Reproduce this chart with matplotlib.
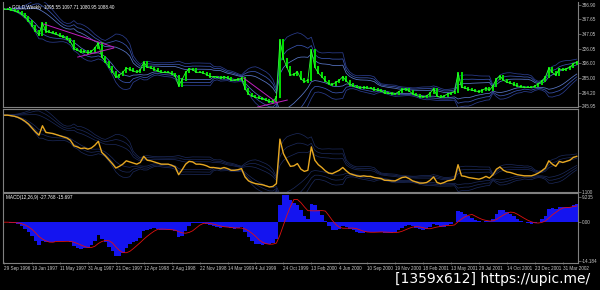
import matplotlib
matplotlib.use("Agg")
import numpy as np
import pandas as pd
from matplotlib import pyplot as plt

# two-week closes, Sep 1996 .. Apr 2002
closes = [381, 381, 380, 379, 377, 374, 370, 365, 358, 351,
          345, 362, 350, 349, 348, 346, 344, 342, 340, 336,
          326, 324, 321, 322, 320, 322, 327, 334, 314, 308,
          301, 294, 286, 289, 293, 299, 297, 295, 293, 296,
          307, 300, 299, 297, 295, 293, 293, 293, 291, 288,
          274, 283, 293, 298, 297, 293, 293, 292, 290, 287,
          287, 286, 285, 287, 285, 282, 282, 283, 285, 270,
          263, 260, 258, 257, 256, 254, 252, 253, 258, 338,
          312, 300, 289, 290, 294, 284, 280, 282, 324, 300,
          292, 287, 281, 277, 276, 279, 282, 287, 281, 276,
          274, 272, 271, 272, 271, 271, 269, 268, 267, 264,
          264, 263, 263, 266, 269, 270, 267, 263, 261, 259,
          259, 260, 264, 270, 260, 258, 260, 263, 264, 266,
          292, 272, 271, 269, 268, 267, 266, 268, 271, 268,
          274, 284, 288, 282, 279, 278, 276, 274, 273, 272,
          272, 272, 274, 277, 281, 286, 299, 293, 289, 298,
          296, 298, 300, 305, 307]

date_ticks = [0, 8, 16, 24, 32, 40, 48, 56, 64, 72, 80,
              88, 96, 104, 112, 120, 128, 136, 144, 152, 160]
date_labels = ["29 Sep 1996", "19 Jan 1997", "11 May 1997", "31 Aug 1997",
               "21 Dec 1997", "12 Apr 1998", "2 Aug 1998", "22 Nov 1998",
               "14 Mar 1999", "4 Jul 1999", "24 Oct 1999", "13 Feb 2000",
               "4 Jun 2000", "10 Sep 2000", "19 Nov 2000", "18 Feb 2001",
               "13 May 2001", "29 Jul 2001", "14 Oct 2001", "23 Dec 2001",
               "31 Mar 2002"]

price_ticks = [386.90, 367.65, 347.05, 326.05, 306.00, 285.00, 264.20, 245.95]
price_labels = ["386.90", "367.65", "347.05", "326.05", "306.00", "285.00", "264.20", "245.95"]
macd_ticks = [9.235, 0.0, -14.184]
macd_labels = ["9.235", "0.00", "-14.184"]

# hand drawn trend lines: (bar index, price) end points
trend_x = [[11.4, 31.4], [21.1, 31.4], [68.6, 78.3], [72.6, 81.1]]
trend_y = [[360.4, 328.3], [314.3, 326.9], [285.0, 250.1], [244.6, 254.3]]

header = "\u25aa GOLD,Weekly  1095.55 1097.71 1080.95 1088.40"
macd_title = "MACD(12,26,9) -27.768 -15.697"
watermark = "[1359x612] https://upic.me/"

GRID = "#808080"
TXT = "#c8c8c8"
SMALL = "Liberation Sans"
FS = 3.3


def style_axis(ax, ylim, ticks, labels):
    ax.set_facecolor("black")
    ax.set_xlim(-0.3, 164.3)
    ax.set_ylim(*ylim)
    ax.yaxis.tick_right()
    ax.set_yticks(ticks)
    ax.set_yticklabels(labels, family=SMALL)
    ax.tick_params(axis="y", labelsize=FS, colors=TXT, length=2, pad=1, width=0.5)
    ax.tick_params(axis="y", color=GRID)
    ax.set_xticks([])
    for s in ax.spines.values():
        s.set_color(GRID)
        s.set_linewidth(0.8)


def main():
    c = pd.Series(closes, dtype=float)
    idx = np.arange(len(c))
    opens = c.shift(1).fillna(c.iloc[0])

    mid = c.rolling(10, min_periods=2).mean().bfill()
    sd = c.rolling(10, min_periods=2).std().bfill()

    fast = c.ewm(span=6, adjust=False).mean()
    slow = c.ewm(span=13, adjust=False).mean()
    macd = fast - slow
    signal = macd.rolling(5, min_periods=1).mean()

    fig = plt.figure(figsize=(6, 2.9), dpi=100, facecolor="black")
    ax1 = fig.add_axes([0.005, 0.631, 0.958, 0.362])
    ax2 = fig.add_axes([0.005, 0.338, 0.958, 0.286])
    ax3 = fig.add_axes([0.005, 0.093, 0.958, 0.241])

    # price panel
    style_axis(ax1, (244.6, 391.1), price_ticks, price_labels)
    ax1.spines["top"].set_visible(False)
    for k, col in [(1.0, "#5a78c8"), (1.6, "#3a55b0"), (2.2, "#2a3c8c")]:
        ax1.plot(idx, mid + k * sd, color=col, lw=0.55)
        ax1.plot(idx, mid - k * sd, color=col, lw=0.55)
    lo = np.minimum(opens, c)
    hi = np.maximum(opens, c)
    ax1.vlines(idx, lo - 1.5, hi + 1.5, color="#00e000", lw=1.4)
    ax1.plot(idx, c, color="#30ff30", lw=0.6)
    for tx, ty in zip(trend_x, trend_y):
        ax1.plot(tx, ty, color="#c020c0", lw=0.7)
    ax1.text(0.01, 0.975, header, transform=ax1.transAxes, fontsize=FS,
             family=SMALL, color="white", va="top")

    # second panel: close line with faint bands
    style_axis(ax2, (243, 392), [243], ["1.100"])
    for k in [1.0, 1.6, 2.2]:
        ax2.plot(idx, mid + k * sd, color="#1c2a5c", lw=0.5)
        ax2.plot(idx, mid - k * sd, color="#1c2a5c", lw=0.5)
    ax2.plot(idx, c, color="#e8a820", lw=1.0)

    # MACD panel
    style_axis(ax3, (-14.9, 10.6), macd_ticks, macd_labels)
    ax3.bar(idx, macd, width=1.0, color="#1414f0", linewidth=0)
    ax3.plot(idx, signal, color="#e01010", lw=0.6)
    ax3.text(0.005, 0.97, macd_title, transform=ax3.transAxes, fontsize=FS,
             family=SMALL, color="white", va="top")
    ax3.set_xticks(date_ticks)
    ax3.set_xticklabels(date_labels, ha="left", family=SMALL)
    ax3.tick_params(axis="x", labelsize=FS, colors=TXT, length=2, pad=1,
                    width=0.5, direction="inout")
    ax3.tick_params(axis="x", color=GRID)

    fig.text(0.983, 0.025, watermark, fontsize=10, color="white", ha="right")

    fig.savefig("out.png", dpi=100, facecolor="black")


if __name__ == '__main__':
    main()
